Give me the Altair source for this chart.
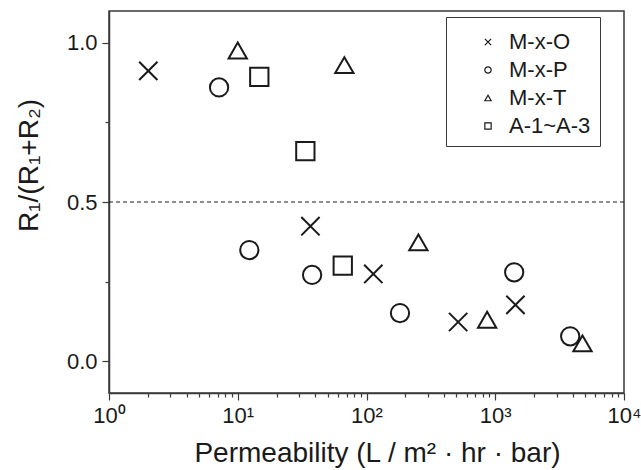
import altair as alt
import pandas as pd

# ---- data ----
series = ["M-x-O", "M-x-P", "M-x-T", "A-1~A-3"]

mxo_perm = [2.02, 36.7, 113, 515, 1435]
mxo_ratio = [0.912, 0.424, 0.274, 0.123, 0.177]

mxp_perm = [7.16, 12.3, 37.8, 182, 1403, 3820]
mxp_ratio = [0.86, 0.349, 0.271, 0.151, 0.279, 0.078]

mxt_perm = [10.0, 67.3, 253, 865, 4760]
mxt_ratio = [0.976, 0.93, 0.373, 0.13, 0.056]

a_perm = [14.7, 33.5, 65.4]
a_ratio = [0.893, 0.66, 0.30]

x_tick_values = [m * 10 ** k for k in range(4) for m in range(1, 10)] + [10000]
y_tick_values = [0.0, 0.25, 0.5, 0.75, 1.0]
threshold = [0.5]

rows = []
for name, xs, ys in [
    (series[0], mxo_perm, mxo_ratio),
    (series[1], mxp_perm, mxp_ratio),
    (series[2], mxt_perm, mxt_ratio),
    (series[3], a_perm, a_ratio),
]:
    for xv, yv in zip(xs, ys):
        rows.append({"perm": xv, "ratio": yv, "series": name})
df = pd.DataFrame(rows)

FONT = "Liberation Sans"
INK = "#1a1a1a"
FRAME = "#3a3a3a"

is_major_x = "abs(log(datum.value)/LN10 - round(log(datum.value)/LN10)) < 1e-6"
x_label = (
    f"{is_major_x} ? '10' + ['\u2070','\u00b9','\u00b2','\u00b3','\u2074'][round(log(datum.value)/LN10)] : ''"
)
is_minor_y = "abs(datum.value - 0.25) < 1e-6 || abs(datum.value - 0.75) < 1e-6"

x_axis = alt.Axis(
    values=x_tick_values,
    labelExpr=x_label,
    tickSize={"condition": {"test": is_major_x, "value": 7}, "value": 4},
    tickColor=FRAME,
    tickWidth=1.2,
    domainColor=FRAME,
    domainWidth=1.5,
    grid=False,
    labelFont=FONT,
    labelFontSize=22,
    labelColor=INK,
    labelPadding=5,
    labelFlush=False,
    labelOverlap=False,
    titleFont=FONT,
    titleFontSize=28,
    titleFontWeight="normal",
    titleColor=INK,
    titleX=268,
    titleY=68,
    titleBaseline="alphabetic",
)

y_axis = alt.Axis(
    values=y_tick_values,
    labelExpr=f"{is_minor_y} ? '' : format(datum.value, '.1f')",
    tickSize={"condition": {"test": is_minor_y, "value": 4}, "value": 7},
    tickColor=FRAME,
    tickWidth=1.2,
    domainColor=FRAME,
    domainWidth=1.5,
    grid=False,
    labelFont=FONT,
    labelFontSize=22,
    labelColor=INK,
    labelPadding=5,
    labelFlush=False,
    titleFont=FONT,
    titleFontSize=28,
    titleFontWeight="normal",
    titleColor=INK,
    titleX=-72,
    titleY=154,
    titleBaseline="alphabetic",
)

shapes = ["M-1,-1L1,1M-1,1L1,-1", "circle", "triangle-up", "square"]

points = alt.Chart(df).mark_point(
    filled=False, strokeWidth=2, color=INK, opacity=1, size=335
).encode(
    x=alt.X(
        "perm:Q",
        scale=alt.Scale(type="log", domain=[1, 10000], nice=False),
        axis=x_axis,
        title="Permeability (L / m\u00b2 \u00b7 hr \u00b7 bar)",
    ),
    y=alt.Y(
        "ratio:Q",
        scale=alt.Scale(domain=[-0.1, 1.1], nice=False, zero=False),
        axis=y_axis,
        title="R\u2081/(R\u2081+R\u2082)",
    ),
    shape=alt.Shape(
        "series:N",
        scale=alt.Scale(domain=series, range=shapes),
        legend=alt.Legend(
            orient="none",
            legendX=337,
            legendY=6,
            title=" ",
            titleFontSize=1,
            titlePadding=4,
            strokeColor=FRAME,
            fillColor="white",
            padding=9,
            labelFont=FONT,
            labelFontSize=22,
            labelColor=INK,
            symbolSize=40,
            symbolStrokeWidth=1.2,
            symbolOffset=22,
            labelOffset=10,
            rowPadding=6,
        ),
    ),
)

rule = alt.Chart(pd.DataFrame({"y": threshold})).mark_rule(
    strokeDash=[4, 3], color=INK, strokeWidth=1
).encode(y=alt.Y("y:Q"))

chart = (
    alt.layer(points, rule)
    .properties(
        width=515,
        height=382,
        autosize=alt.AutoSizeParams(type="none"),
        padding={"left": 109, "top": 11, "right": 17, "bottom": 77},
        background="white",
    )
    .configure_view(stroke=FRAME, strokeWidth=1.5)
)

chart.save("out.html", embed_options={"renderer": "svg", "actions": False})
